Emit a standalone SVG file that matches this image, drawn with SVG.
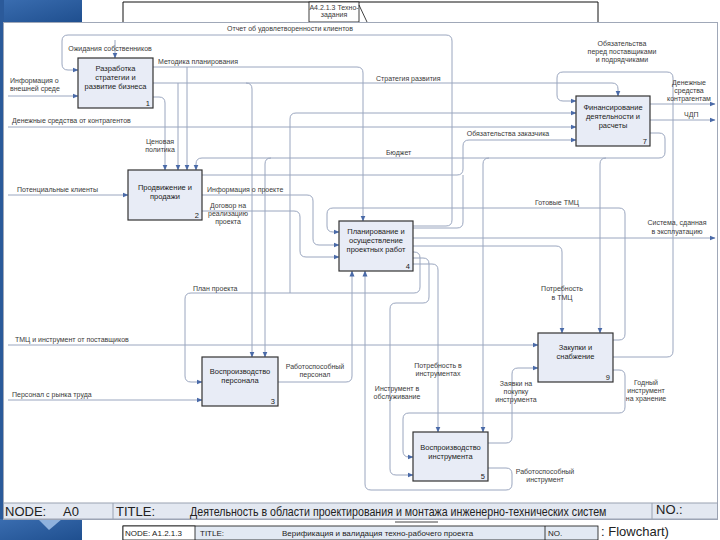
<svg xmlns="http://www.w3.org/2000/svg" width="720" height="540" viewBox="0 0 720 540">
<defs>
<marker id="ah" markerWidth="6" markerHeight="6" refX="5.5" refY="3" orient="auto" markerUnits="userSpaceOnUse"><path d="M0,0.5 L6,3 L0,5.5 z" fill="#4a6aa8"/></marker>
<linearGradient id="bl" x1="0" y1="0" x2="1" y2="1"><stop offset="0" stop-color="#3a6db0"/><stop offset="1" stop-color="#1f4f8f"/></linearGradient>
</defs>
<style>
.c{fill:none;stroke:#9aa6bf;stroke-width:1}
.a{marker-end:url(#ah)}
.box{fill:#e8ecf6;stroke:#333;stroke-width:1.2}
.bt{font-family:"Liberation Sans",Arial,sans-serif;font-size:7.5px;fill:#222;text-anchor:middle}
.num{font-family:"Liberation Sans",Arial,sans-serif;font-size:7.5px;fill:#222;text-anchor:end}
.lb{font-family:"Liberation Sans",Arial,sans-serif;font-size:7px;fill:#3a3a3a}
.m{text-anchor:middle}
.ft{font-family:"Liberation Sans",Arial,sans-serif;font-size:13px;fill:#222}
.fb{font-family:"Liberation Sans",Arial,sans-serif;font-size:8px;fill:#222}
</style>
<rect x="0" y="0" width="720" height="540" fill="#ffffff"/>
<g id="background">
<rect x="0" y="0" width="82" height="22" fill="url(#bl)"/>
<rect x="0" y="0" width="4" height="540" fill="#2b5a9a"/>
<rect x="0" y="519" width="82" height="21" fill="url(#bl)"/>
<polygon points="38,519 62,519 49,530" fill="#8fb2de"/>
<path d="M123,22 V2 H598 V22" fill="none" stroke="#111" stroke-width="1"/>
<rect x="309" y="2" width="50" height="20" fill="#fff" stroke="#111" stroke-width="0.8"/>
<line x1="359" y1="5" x2="367" y2="22" stroke="#111" stroke-width="0.8"/>
<text class="lb" x="334" y="10" text-anchor="middle" font-size="5.5">А4.2.1.3 Техно-</text>
<text class="lb" x="334" y="17" text-anchor="middle" font-size="5.5">задания</text>
<rect x="123" y="526" width="475" height="14" fill="#e2e9f3" stroke="#111" stroke-width="0.8"/>
<rect x="123" y="526" width="72" height="14" fill="#ffffff" stroke="#111" stroke-width="0.8"/>
<line x1="545" y1="526" x2="545" y2="540" stroke="#111" stroke-width="0.8"/>
<line x1="395" y1="522" x2="438" y2="522" stroke="#111" stroke-width="0.8"/>
<text class="fb" x="125" y="536">NODE: A1.2.1.3</text>
<text class="fb" x="200" y="536">TITLE:</text>
<text class="fb" x="282" y="536">Верификация и валидация техно-рабочего проекта</text>
<text class="fb" x="548" y="536">NO.</text>
<text font-family="Liberation Sans, Arial, sans-serif" font-size="13" fill="#222" x="601" y="536">: Flowchart)</text>
</g>
<g id="frame">
<rect x="3.5" y="22.5" width="714" height="497" fill="#ffffff" stroke="#a0a8b8" stroke-width="1"/>
<rect x="3.5" y="503" width="714" height="16" fill="#e3e8f1" stroke="#9aa2b2" stroke-width="1"/>
<line x1="113" y1="503" x2="113" y2="519" stroke="#9aa2b2"/>
<line x1="652" y1="503" x2="652" y2="519" stroke="#9aa2b2"/>
<text class="ft" x="5" y="516">NODE:</text>
<text class="ft" x="63" y="516">A0</text>
<text class="ft" x="116" y="516">TITLE:</text>
<text class="ft" transform="translate(190,516) scale(0.82,1)" x="0" y="0" font-size="12">Деятельность в области проектирования и монтажа инженерно-технических систем</text>
<text class="ft" x="656" y="514" font-size="11">NO.:</text>
</g>
<g id="connectors">
<path class="c a" d="M413,226 H446 Q452,226 452,220 V41 Q452,35 446,35 H68 Q62,35 62,41 V64 Q62,70 68,70 H78"/>
<path class="c a" d="M115,40 V58"/>
<path class="c a" d="M153,67 H357 Q363,67 363,73 V221"/>
<path class="c a" d="M187,67 V170"/>
<path class="c a" d="M153,83 H612 Q618,83 618,89 V96"/>
<path class="c a" d="M178,83 V170"/>
<path class="c a" d="M246,83 Q252,83 252,89 V357"/>
<path class="c a" d="M153,97 H159 Q165,97 165,103 V170"/>
<path class="c a" d="M8,127 H576"/>
<path class="c a" d="M290,293 V119 Q290,113 296,113 H576"/>
<path class="c a" d="M650,133 H659 Q665,133 665,139 V152 Q665,158 659,158 H202 Q196,158 196,164 V170"/>
<path class="c a" d="M271,158 Q265,158 265,164 V357"/>
<path class="c a" d="M489,158 Q483,158 483,164 V432"/>
<path class="c a" d="M606,158 Q600,158 600,164 V333"/>
<path class="c a" d="M202,175 H457 Q463,175 463,169 V146 Q463,140 469,140 H576"/>
<path class="c" d="M463,175 V222 Q463,228 457,228 H413"/>
<path class="c a" d="M613,340 H619 Q625,340 625,334 V214 Q625,208 619,208 H333 Q327,208 327,214 V226 Q327,232 333,232 H339"/>
<path class="c a" d="M202,195 H307 Q313,195 313,201 V239 Q313,245 319,245 H339"/>
<path class="c a" d="M202,211 H294 Q300,211 300,217 V251 Q300,257 306,257 H339"/>
<path class="c a" d="M413,238 H715"/>
<path class="c a" d="M413,246 H556 Q562,246 562,252 V333"/>
<path class="c a" d="M413,252 H414 Q420,252 420,258 V287 Q420,293 414,293 H191 Q185,293 185,299 V376 Q185,382 191,382 H202"/>
<path class="c a" d="M413,258 H423 Q429,258 429,264 V297 Q429,303 423,303 H396 Q390,303 390,309 V469 Q390,475 396,475 H413"/>
<path class="c a" d="M413,264 H432 Q438,264 438,270 V432"/>
<path class="c a" d="M278,382 H346 Q352,382 352,376 V271"/>
<path class="c a" d="M488,468 H506 Q512,468 512,474 V484 Q512,490 506,490 H371 Q365,490 365,484 V271"/>
<path class="c a" d="M488,443 H506 Q512,443 512,437 V374 Q512,368 518,368 H538"/>
<path class="c a" d="M613,370 H619 Q625,370 625,376 V407 Q625,413 619,413 H409 Q403,413 403,419 V451 Q403,457 409,457 H413"/>
<path class="c a" d="M613,357 H667 Q673,357 673,351 V78 Q673,72 667,72 H563 Q557,72 557,78 V95 Q557,101 563,101 H576"/>
<path class="c a" d="M650,104 H715"/>
<path class="c a" d="M650,120 H715"/>
<path class="c a" d="M8,96 H78"/>
<path class="c a" d="M8,195 H128"/>
<path class="c a" d="M8,345 H538"/>
<path class="c a" d="M8,400 H202"/>
</g>
<g id="labels">
<text class="lb m" x="290" y="31">Отчет об удовлетворенности клиентов</text>
<text class="lb m" x="110" y="51">Ожидания собственников</text>
<text class="lb" x="158" y="64">Методика планирования</text>
<text class="lb" x="10" y="83">Информация о</text>
<text class="lb" x="10" y="91">внешней среде</text>
<text class="lb" x="12" y="123">Денежные средства от контрагентов</text>
<text class="lb" x="376" y="81">Стратегия развития</text>
<text class="lb m" x="622" y="46">Обязательства</text>
<text class="lb m" x="622" y="54">перед поставщиками</text>
<text class="lb m" x="622" y="62">и подрядчиками</text>
<text class="lb m" x="689" y="85">Денежные</text>
<text class="lb m" x="689" y="93">средства</text>
<text class="lb m" x="689" y="101">контрагентам</text>
<text class="lb" x="684" y="117">ЧДП</text>
<text class="lb m" x="508" y="136">Обязательства заказчика</text>
<text class="lb m" x="160" y="144">Ценовая</text>
<text class="lb m" x="160" y="152">политика</text>
<text class="lb" x="386" y="155">Бюджет</text>
<text class="lb" x="17" y="192">Потенциальные клиенты</text>
<text class="lb" x="207" y="192">Информация о проекте</text>
<text class="lb m" x="228" y="208">Договор на</text>
<text class="lb m" x="228" y="216">реализацию</text>
<text class="lb m" x="228" y="224">проекта</text>
<text class="lb" x="535" y="205">Готовые ТМЦ</text>
<text class="lb m" x="677" y="225">Система, сданная</text>
<text class="lb m" x="677" y="234">в эксплуатацию</text>
<text class="lb" x="193" y="291">План проекта</text>
<text class="lb m" x="562" y="291">Потребность</text>
<text class="lb m" x="562" y="300">в ТМЦ</text>
<text class="lb" x="15" y="342">ТМЦ и инструмент от поставщиков</text>
<text class="lb m" x="315" y="369">Работоспособный</text>
<text class="lb m" x="315" y="377">персонал</text>
<text class="lb m" x="438" y="368">Потребность в</text>
<text class="lb m" x="438" y="376">инструментах</text>
<text class="lb m" x="397" y="391">Инструмент в</text>
<text class="lb m" x="397" y="399">обслуживание</text>
<text class="lb m" x="516" y="386">Заявки на</text>
<text class="lb m" x="516" y="394">покупку</text>
<text class="lb m" x="516" y="402">инструмента</text>
<text class="lb m" x="646" y="385">Годный</text>
<text class="lb m" x="646" y="393">инструмент</text>
<text class="lb m" x="646" y="401">на хранение</text>
<text class="lb" x="12" y="397">Персонал с рынка труда</text>
<text class="lb m" x="545" y="474">Работоспособный</text>
<text class="lb m" x="545" y="482">инструмент</text>
</g>
<g id="node1">
<rect class="box" x="78" y="58" width="75" height="50"/>
<text class="bt" x="115.5" y="71">Разработка</text>
<text class="bt" x="115.5" y="80">стратегии и</text>
<text class="bt" x="115.5" y="89">развитие бизнеса</text>
<text class="num" x="150" y="106">1</text>
</g>
<g id="node2">
<rect class="box" x="128" y="170" width="74" height="50"/>
<text class="bt" x="165" y="190">Продвижение и</text>
<text class="bt" x="165" y="199">продажи</text>
<text class="num" x="199" y="218">2</text>
</g>
<g id="node4">
<rect class="box" x="339" y="221" width="74" height="50"/>
<text class="bt" x="376" y="234">Планирование и</text>
<text class="bt" x="376" y="243">осуществление</text>
<text class="bt" x="376" y="252">проектных работ</text>
<text class="num" x="410" y="269">4</text>
</g>
<g id="node7">
<rect class="box" x="576" y="96" width="74" height="50"/>
<text class="bt" x="613" y="110">Финансирование</text>
<text class="bt" x="613" y="119">деятельности и</text>
<text class="bt" x="613" y="128">расчеты</text>
<text class="num" x="647" y="144">7</text>
</g>
<g id="node3">
<rect class="box" x="202" y="357" width="76" height="49"/>
<text class="bt" x="240" y="374">Воспроизводство</text>
<text class="bt" x="240" y="383">персонала</text>
<text class="num" x="275" y="404">3</text>
</g>
<g id="node9">
<rect class="box" x="538" y="333" width="75" height="49"/>
<text class="bt" x="575.5" y="350">Закупки и</text>
<text class="bt" x="575.5" y="359">снабжение</text>
<text class="num" x="610" y="380">9</text>
</g>
<g id="node5">
<rect class="box" x="413" y="432" width="75" height="49"/>
<text class="bt" x="450.5" y="450">Воспроизводство</text>
<text class="bt" x="450.5" y="459">инструмента</text>
<text class="num" x="485" y="479">5</text>
</g>
</svg>
